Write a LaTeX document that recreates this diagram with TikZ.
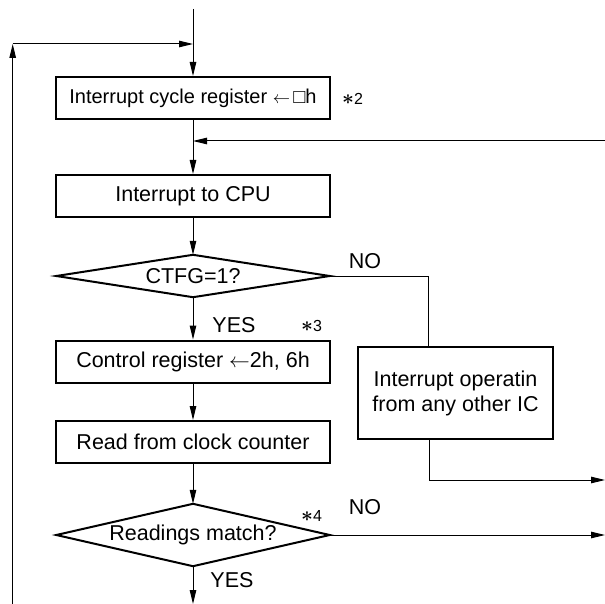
\documentclass[tikz,border=0pt]{standalone}
\usepackage{fontspec}
\setmainfont{Liberation Sans}
\usetikzlibrary{arrows.meta}
\newcommand{\starnote}[1]{{\fontsize{20}{20}\selectfont\boldmath$\ast$}{\fontsize{16}{18}\selectfont #1}}
\newcommand{\smallarrow}{{\fontsize{18}{18}\selectfont$\leftarrow$}}
\begin{document}
\begin{tikzpicture}[x=1pt,y=-1pt,
  txt/.style={font=\fontsize{21.5}{25}\selectfont},
  box/.style={txt,draw,line width=2pt,minimum width=274pt,minimum height=42pt,inner sep=0pt,align=center},
  dbox/.style={txt,minimum width=273pt,inner sep=0pt},
  dline/.style={line width=2pt,line join=miter},
  note/.style={inner sep=0pt,anchor=base west},
  lbl/.style={txt,inner sep=0pt},
  conn/.style={line width=1pt},
  arr/.style={conn,-{Triangle[length=14pt,width=6.5pt]}}]
\useasboundingbox (0,0) rectangle (605,604);
% nodes
\node[box,font=\fontsize{20}{24}\selectfont] (b1) at (193,98) {Interrupt cycle register \smallarrow\,□h};
\node[note] (n2) at (342,105) {\starnote{2}};
\node[box] (b2) at (193,196) {Interrupt to CPU};
\node[dbox,minimum height=42pt] (d1) at (193,276) {CTFG=1?};
\draw[dline] (d1.north) -- (d1.east) -- (d1.south) -- (d1.west) -- cycle;
\node[lbl] (no1) at (365,261) {NO};
\node[lbl] (yes1) at (234,325) {YES};
\node[note] (n3) at (301,331) {\starnote{3}};
\node[box] (b3) at (193,361.5) {Control register $\leftarrow$2h, 6h};
\node[box] (b4) at (193,442) {Read from clock counter};
\node[dbox,minimum height=62pt] (d2) at (193,535) {Readings match?};
\draw[dline] (d2.north) -- (d2.east) -- (d2.south) -- (d2.west) -- cycle;
\node[note] (n4) at (301,521) {\starnote{4}};
\node[lbl] (no2) at (365,507) {NO};
\node[lbl] (yes2) at (232,580) {YES};
\node[box,minimum width=195pt,minimum height=92pt] (rb) at (455.5,393) {Interrupt operatin\\from any other IC};
% coordinates
\coordinate (top) at (193,9);
\coordinate (j1) at (193,141);
\coordinate (rin) at (605,141);
\coordinate (lb) at (12.7,604);
\coordinate (lt) at (12.7,44);
\coordinate (lj) at (193,44);
\coordinate (c1) at (428,276);
\coordinate (c2) at (429,480);
\coordinate (rout1) at (605,480);
\coordinate (rout2) at (605,535);
\coordinate (bot) at (193,604);
% connectors
\draw[arr] (top) -- (b1.north);
\draw[arr] (lb) -- (lt);
\draw[arr] (lt) -- (lj);
\draw[conn] (b1.south) -- (j1);
\draw[arr] (j1) -- (b2.north);
\draw[arr] (rin) -- (j1);
\draw[arr] (b2.south) -- (d1.north);
\draw[conn] (d1.east) -- (c1) -- (c1 |- rb.north);
\draw[arr] (d1.south) -- (b3.north);
\draw[arr] (b3.south) -- (b4.north);
\draw[arr] (b4.south) -- (d2.north);
\draw[arr] (c2 |- rb.south) -- (c2) -- (rout1);
\draw[arr] (d2.east) -- (rout2);
\draw[arr] (d2.south) -- (bot);
\end{tikzpicture}
\end{document}
